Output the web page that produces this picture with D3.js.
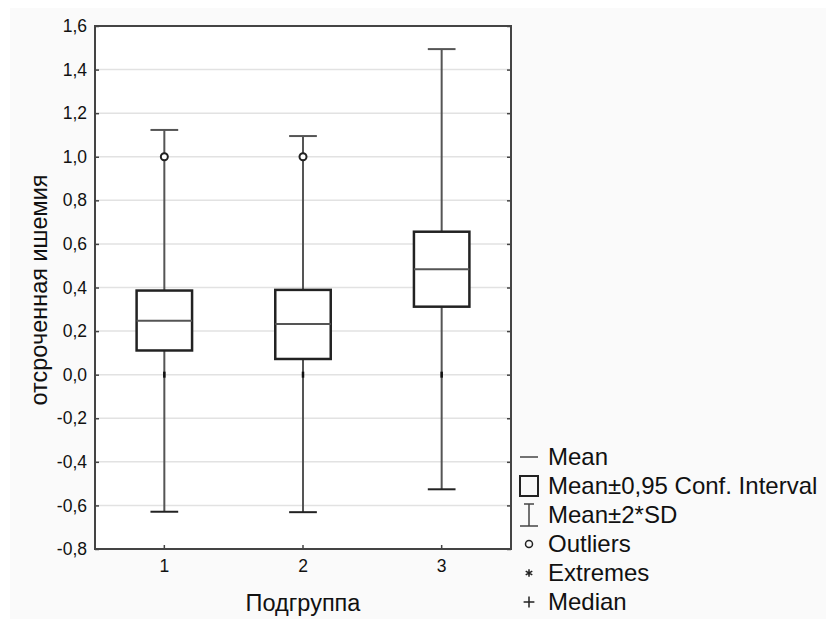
<!DOCTYPE html>
<html>
<head>
<meta charset="utf-8">
<script src="https://cdn.jsdelivr.net/npm/d3@7"></script>
<style>
  body { margin: 0; background: #fff; }
  text { font-family: Arial, "Liberation Sans", sans-serif; fill: #111; }
</style>
</head>
<body>
<svg width="826" height="619"></svg>
<script>
// groups and their stats
const groups = ["1", "2", "3"];
const means = [0.247, 0.232, 0.484];
const ciLow = [0.111, 0.072, 0.312];
const ciHigh = [0.386, 0.389, 0.656];
const sdLow = [-0.629, -0.631, -0.526];
const sdHigh = [1.123, 1.095, 1.494];
const medians = [0.0, 0.0, 0.0];
const outliers = [[1.0], [1.0], []];
const yTicks = [-0.8, -0.6, -0.4, -0.2, 0.0, 0.2, 0.4, 0.6, 0.8, 1.0, 1.2, 1.4, 1.6];
const legendItems = ["Mean", "Mean±0,95 Conf. Interval", "Mean±2*SD", "Outliers", "Extremes", "Median"];

const plotL = 95, plotR = 511, plotT = 26, plotB = 549;

let svg = d3.select("svg");

// light gray page background
svg.append("rect")
  .attr("x", 10).attr("y", 8)
  .attr("width", 816).attr("height", 611)
  .attr("fill", "#fafafa");

svg.append("rect")
  .attr("x", plotL).attr("y", plotT)
  .attr("width", plotR - plotL).attr("height", plotB - plotT)
  .attr("fill", "#fff");

let x = d3.scaleBand()
  .domain(groups)
  .range([plotL, plotR])
  .padding(0);

let y = d3.scaleLinear()
  .domain([-0.8, 1.6])
  .range([plotB, plotT]);

const fmt = d => d3.format(".1f")(d).replace(".", ",").replace("−", "-");

// grid
svg.append("g")
  .selectAll("line")
  .data(yTicks.slice(1, -1))
  .enter()
  .append("line")
    .attr("x1", plotL).attr("x2", plotR)
    .attr("y1", d => y(d)).attr("y2", d => y(d))
    .attr("stroke", "#e2e2e2")
    .attr("stroke-width", 1.5)

// left axis
let yAxis = d3.axisLeft(y)
  .tickValues(yTicks)
  .tickFormat(fmt)
  .tickSize(-4)
  .tickSizeOuter(0)
  .tickPadding(8);

let gy = svg.append("g")
  .attr("transform", `translate(${plotL},0)`)
  .call(yAxis);
gy.selectAll("text").style("font-size", "17.5px").attr("fill", "#111");
gy.selectAll("line").attr("stroke", "#444").attr("stroke-width", 1.5);
gy.select(".domain").remove();

// right axis ticks
let gy2 = svg.append("g")
  .attr("transform", `translate(${plotR},0)`)
  .call(d3.axisRight(y).tickValues(yTicks).tickSize(-4).tickSizeOuter(0).tickFormat(""));
gy2.selectAll("line").attr("stroke", "#444").attr("stroke-width", 1.5);
gy2.select(".domain").remove();

// bottom axis
let gx = svg.append("g")
  .attr("transform", `translate(0,${plotB})`)
  .call(d3.axisBottom(x).tickSize(-4).tickSizeOuter(0).tickPadding(11));
gx.selectAll("text").style("font-size", "17.5px").attr("fill", "#111");
gx.selectAll("line").attr("stroke", "#444").attr("stroke-width", 1.5);
gx.select(".domain").remove();

// frame
svg.append("rect")
  .attr("x", plotL).attr("y", plotT)
  .attr("width", plotR - plotL).attr("height", plotB - plotT)
  .attr("fill", "none")
  .attr("stroke", "#444")
  .attr("stroke-width", 2);

const bw = x.bandwidth();
const boxW = bw * 0.4;
const capW = bw * 0.2;
const cx = g => x(g) + bw / 2;

let boxes = svg.append("g")
  .selectAll("g")
  .data(groups)
  .enter()
  .append("g");

// whiskers
boxes.append("line")
  .attr("x1", cx).attr("x2", cx)
  .attr("y1", (d, i) => y(sdLow[i])).attr("y2", (d, i) => y(sdHigh[i]))
  .attr("stroke", "#555").attr("stroke-width", 2);

boxes.append("line")
  .attr("x1", d => cx(d) - capW / 2).attr("x2", d => cx(d) + capW / 2)
  .attr("y1", (d, i) => y(sdHigh[i])).attr("y2", (d, i) => y(sdHigh[i]))
  .attr("stroke", "#555").attr("stroke-width", 2);

boxes.append("line")
  .attr("x1", d => cx(d) - capW / 2).attr("x2", d => cx(d) + capW / 2)
  .attr("y1", (d, i) => y(sdLow[i])).attr("y2", (d, i) => y(sdLow[i]))
  .attr("stroke", "#222").attr("stroke-width", 2);

// CI box
boxes.append("rect")
  .attr("x", d => cx(d) - boxW / 2)
  .attr("y", (d, i) => y(ciHigh[i]))
  .attr("width", boxW)
  .attr("height", (d, i) => y(ciLow[i]) - y(ciHigh[i]))
  .attr("fill", "#fff")
  .attr("stroke", "#222")
  .attr("stroke-width", 2.5);

// mean
boxes.append("line")
  .attr("x1", d => cx(d) - boxW / 2).attr("x2", d => cx(d) + boxW / 2)
  .attr("y1", (d, i) => y(means[i])).attr("y2", (d, i) => y(means[i]))
  .attr("stroke", "#555").attr("stroke-width", 2);

// median marks
boxes.append("line")
  .attr("x1", cx).attr("x2", cx)
  .attr("y1", (d, i) => y(medians[i]) - 3).attr("y2", (d, i) => y(medians[i]) + 3)
  .attr("stroke", "#111").attr("stroke-width", 2.5);

// outliers
groups.forEach((g, i) => {
  svg.selectAll(null)
    .data(outliers[i])
    .enter()
    .append("circle")
      .attr("cx", cx(g))
      .attr("cy", d => y(d))
      .attr("r", 3.5)
      .attr("fill", "#fff")
      .attr("stroke", "#222")
      .attr("stroke-width", 2);
});

// axis titles
svg.append("text")
  .attr("transform", "rotate(-90)")
  .attr("x", -290)
  .attr("y", 47)
  .style("text-anchor", "middle")
  .style("font-size", "23.5px")
  .text("отсроченная ишемия");

svg.append("text")
  .attr("x", (plotL + plotR) / 2)
  .attr("y", 611)
  .style("text-anchor", "middle")
  .style("font-size", "23.5px")
  .text("Подгруппа");

// legend
let legend = svg.append("g");
const lx = 529, ly0 = 457, lstep = 29;
legendItems.forEach((t, i) => {
  legend.append("text")
    .attr("x", 548)
    .attr("y", ly0 + i * lstep)
    .attr("dy", "0.35em")
    .style("font-size", "24px")
    .text(t);
});
// symbols
legend.append("line")
  .attr("x1", lx - 9).attr("x2", lx + 9)
  .attr("y1", ly0).attr("y2", ly0)
  .attr("stroke", "#444").attr("stroke-width", 1.5);
legend.append("rect")
  .attr("x", lx - 9).attr("y", ly0 + lstep - 10)
  .attr("width", 18).attr("height", 20)
  .attr("fill", "none").attr("stroke", "#222").attr("stroke-width", 2);
let sy = ly0 + 2 * lstep;
legend.append("line").attr("x1", lx).attr("x2", lx).attr("y1", sy - 11).attr("y2", sy + 11)
  .attr("stroke", "#444").attr("stroke-width", 1.5);
legend.append("line").attr("x1", lx - 5).attr("x2", lx + 5).attr("y1", sy - 11).attr("y2", sy - 11)
  .attr("stroke", "#444").attr("stroke-width", 1.5);
legend.append("line").attr("x1", lx - 9).attr("x2", lx + 9).attr("y1", sy + 11).attr("y2", sy + 11)
  .attr("stroke", "#444").attr("stroke-width", 1.5);
legend.append("circle").attr("cx", lx).attr("cy", ly0 + 3 * lstep).attr("r", 3.5)
  .attr("fill", "none").attr("stroke", "#222").attr("stroke-width", 1.5);
legend.append("path")
  .attr("d", d3.symbol(d3.symbolAsterisk, 40)())
  .attr("transform", `translate(${lx},${ly0 + 4 * lstep})`)
  .attr("stroke", "#222").attr("stroke-width", 1.5).attr("fill", "none");
legend.append("path")
  .attr("d", d3.symbol(d3.symbolCross2 || d3.symbolPlus, 40)())
  .attr("transform", `translate(${lx},${ly0 + 5 * lstep})`)
  .attr("stroke", "#222").attr("stroke-width", 1.5).attr("fill", "none");
</script>
</body>
</html>
